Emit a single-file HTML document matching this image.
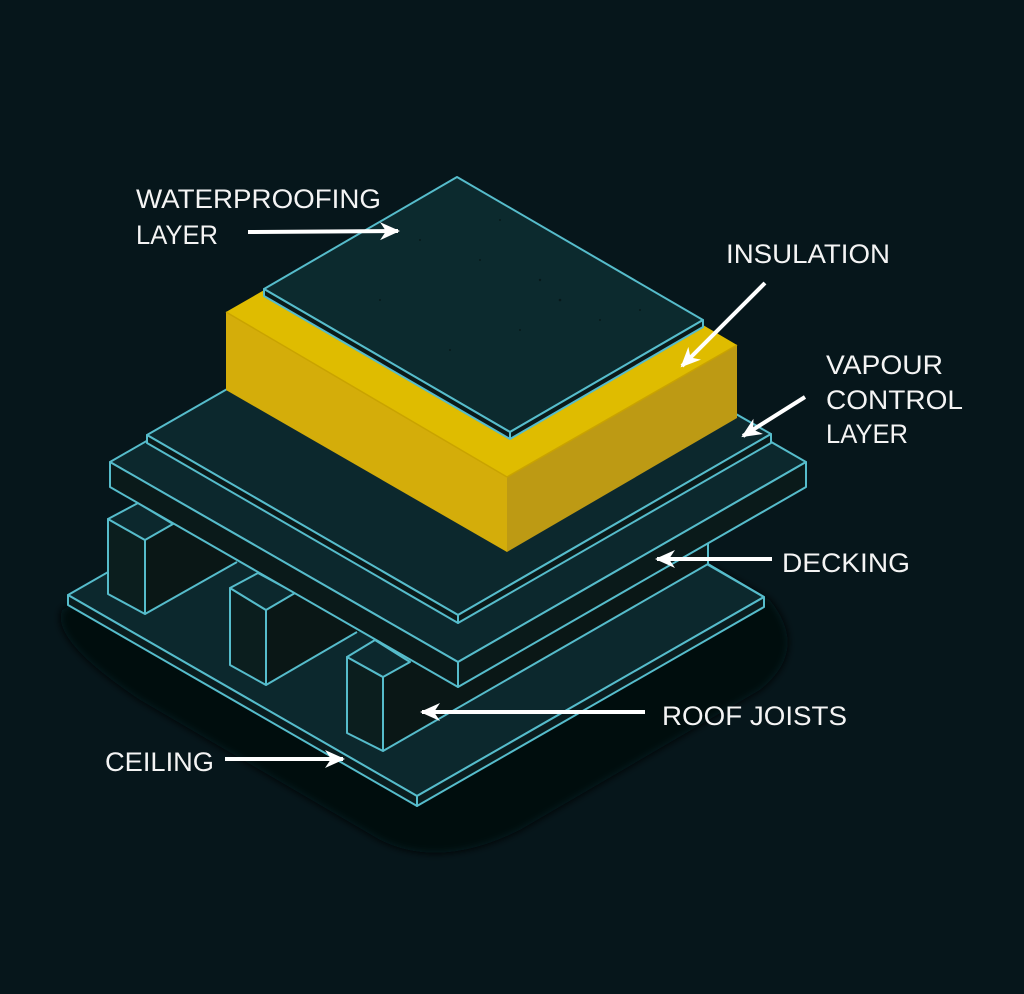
<!DOCTYPE html>
<html><head><meta charset="utf-8"><style>
html,body{margin:0;padding:0;background:#06161b;}
svg{display:block}
text{font-family:"Liberation Sans",sans-serif;fill:#f4f4f4;font-size:27px;}
</style></head><body>
<svg width="1024" height="994" viewBox="0 0 1024 994" xmlns="http://www.w3.org/2000/svg">
<defs>
<filter id="bl" x="-20%" y="-20%" width="140%" height="140%"><feGaussianBlur stdDeviation="4"/></filter>
<marker id="ah" markerWidth="22" markerHeight="20" refX="18" refY="9" orient="auto" markerUnits="userSpaceOnUse" viewBox="0 0 22 20"><path d="M0,0 L20,9 L0,18 L6,9 Z" fill="#fff"/></marker>
</defs>
<rect width="1024" height="994" fill="#06161b"/>
<!-- shadow -->
<path d="M62,610 Q50,640 140,700 L380,840 Q440,870 520,830 L760,690 Q810,650 770,600 L420,400 Z" fill="#01080a" filter="url(#bl)"/>
<g stroke="#56bccb" stroke-width="2" stroke-linejoin="round">
<!-- ceiling -->
<polygon points="68,595 415,396 764,597 417,796" fill="#0c282d"/>
<polygon points="68,595 417,796 417,806 68,605" fill="#0a1c1e"/>
<polygon points="417,796 764,597 764,607 417,806" fill="#0a1c1e"/>
<!-- joists -->
<polygon points="145,540 470,353 470,427 145,614" fill="#0a1716" stroke="none"/>
<polygon points="108,519 145,540 145,614 108,594" fill="#0b1e1e"/>
<polygon points="108,519 138,503 173,524 145,540" fill="#0c282d"/>
<line x1="145" y1="614" x2="237" y2="562"/>
<polygon points="266,610 590,423 590,498 266,685" fill="#0a1716" stroke="none"/>
<polygon points="230,588 266,610 266,685 230,665" fill="#0b1e1e"/>
<polygon points="230,588 258,573 295,593 266,610" fill="#0c282d"/>
<line x1="266" y1="685" x2="357" y2="632"/>
<polygon points="383,677 708,490 708,564 383,751" fill="#0a1716" stroke="none"/>
<polygon points="347,657 383,677 383,751 347,733" fill="#0b1e1e"/>
<polygon points="347,657 375,640 410,662 383,677" fill="#0c282d"/>
<line x1="383" y1="751" x2="708" y2="564"/>
<line x1="708" y1="564" x2="708" y2="540"/>
<line x1="708" y1="564" x2="764" y2="597"/>
<!-- decking -->
<polygon points="110,462 458,262 806,462 458,662" fill="#0c282d"/>
<polygon points="110,462 458,662 458,687 110,487" fill="#0a1a1a"/>
<polygon points="458,662 806,462 806,487 458,687" fill="#0a1a1a"/>
<!-- vapour control -->
<polygon points="147,435 459,256 771,434 458,615" fill="#0c282d"/>
<polygon points="147,435 458,615 458,623 147,443" fill="#0a1a1a"/>
<polygon points="458,615 771,434 771,443 458,623" fill="#0a1a1a"/>
</g>
<!-- insulation -->
<polygon points="226,312 456,180 737,345 507,477" fill="#dfbc00"/>
<polygon points="226,312 507,477 507,552 226,390" fill="#d4ad0a"/>
<polygon points="507,477 737,345 737,418 507,552" fill="#bd9a14"/>
<line x1="226" y1="312" x2="507" y2="477" stroke="#c9a300" stroke-width="1.5"/>
<line x1="507" y1="477" x2="737" y2="345" stroke="#c9a300" stroke-width="1.5"/>
<!-- waterproofing -->
<g stroke="#56bccb" stroke-width="2" stroke-linejoin="round">
<polygon points="264,289 457,177 703,320 510,432" fill="#0c2a2e"/>
<polygon points="264,289 510,432 510,439 264,296" fill="#0a1a1a"/>
<polygon points="510,432 703,320 703,327 510,439" fill="#0a1a1a"/>
</g>
<g fill="#061214" opacity="0.7">
<circle cx="420" cy="240" r="1"/><circle cx="480" cy="260" r="1"/><circle cx="540" cy="280" r="1.2"/><circle cx="380" cy="300" r="1"/><circle cx="600" cy="320" r="1"/><circle cx="520" cy="330" r="1"/><circle cx="450" cy="350" r="1"/><circle cx="560" cy="300" r="1.3"/><circle cx="500" cy="220" r="1"/><circle cx="640" cy="310" r="1"/>
</g>
<!-- arrows -->
<g stroke="#fff" stroke-width="4" stroke-linecap="butt" fill="none" marker-end="url(#ah)">
<line x1="248" y1="232" x2="398" y2="231"/>
<line x1="765" y1="283" x2="682" y2="366"/>
<line x1="805" y1="397" x2="743" y2="436"/>
<line x1="772" y1="559" x2="657" y2="559"/>
<line x1="645" y1="712" x2="422" y2="712"/>
<line x1="225" y1="759" x2="343" y2="759"/>
</g>
<!-- labels -->
<text x="136" y="208" textLength="245" lengthAdjust="spacingAndGlyphs">WATERPROOFING</text>
<text x="136" y="244" textLength="82" lengthAdjust="spacingAndGlyphs">LAYER</text>
<text x="726" y="263" textLength="164" lengthAdjust="spacingAndGlyphs">INSULATION</text>
<text x="826" y="374" textLength="117" lengthAdjust="spacingAndGlyphs">VAPOUR</text>
<text x="826" y="409" textLength="137" lengthAdjust="spacingAndGlyphs">CONTROL</text>
<text x="826" y="443" textLength="82" lengthAdjust="spacingAndGlyphs">LAYER</text>
<text x="782" y="572" textLength="128" lengthAdjust="spacingAndGlyphs">DECKING</text>
<text x="662" y="725" textLength="185" lengthAdjust="spacingAndGlyphs">ROOF JOISTS</text>
<text x="105" y="771" textLength="109" lengthAdjust="spacingAndGlyphs">CEILING</text>
</svg>
</body></html>
